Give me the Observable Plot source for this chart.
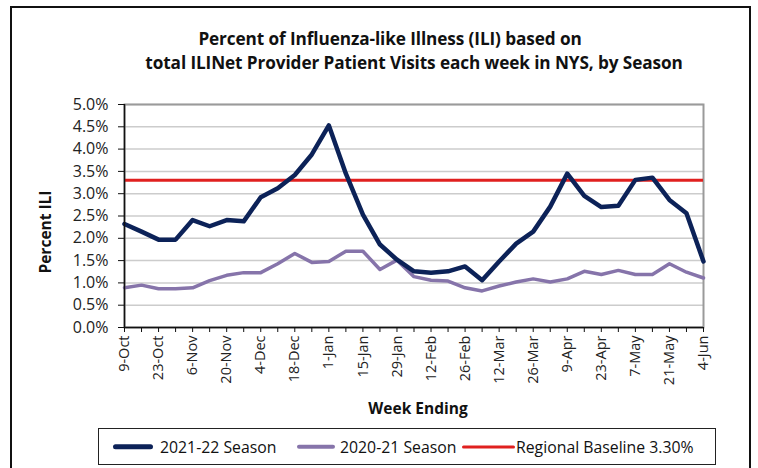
<!DOCTYPE html>
<html>
<head>
<meta charset="utf-8">
<script src="https://cdn.jsdelivr.net/npm/d3@7"></script>
<script src="https://cdn.jsdelivr.net/npm/@observablehq/plot@0.6"></script>
<style>
  html, body { margin: 0; padding: 0; background: #fff; }
  #wrap { position: relative; width: 758px; height: 468px; overflow: hidden; background: #fff; font-family: "Open Sans", sans-serif; }
  #frame { position: absolute; left: 10px; top: 6px; width: 741px; height: 480px; border: 2px solid #111; box-sizing: border-box; }
  .title { position: absolute; font-weight: bold; font-size: 17.2px; color: #111; white-space: nowrap; transform: translate(-50%, -50%); letter-spacing: -0.1px; }
  .axlabel { position: absolute; font-weight: bold; font-size: 15.5px; color: #111; white-space: nowrap; transform: translate(-50%, -50%); }
  #chart { position: absolute; left: 0; top: 0; }
  #legend { position: absolute; left: 98px; top: 428px; width: 618px; height: 37px; border: 1px solid #222; box-sizing: border-box; background: #fff; }
  .lg-sw { position: absolute; top: 50%; transform: translateY(-50%); border-radius: 3px; }
  .lg-tx { position: absolute; top: 50%; transform: translateY(-50%); font-size: 15.8px; color: #111; white-space: nowrap; }
</style>
</head>
<body>
<div id="wrap">
  <div id="frame"></div>
  <div id="chart"></div>
  <div class="title" id="t1" style="left:390px; top:38px;"></div>
  <div class="title" id="t2" style="left:414px; top:62px;"></div>
  <div class="axlabel" id="ylab" style="left:45px; top:232px; transform: translate(-50%, -50%) rotate(-90deg);"></div>
  <div class="axlabel" id="xlab" style="left:418px; top:408px;"></div>
  <div id="legend"></div>
</div>
<script>
// ---- Data ----
const titleLines = [
  "Percent of Influenza-like Illness (ILI) based on",
  "total ILINet Provider Patient Visits each week in NYS, by Season"
];
const yAxisTitle = "Percent ILI";
const xAxisTitle = "Week Ending";
const firstWeekEnding = "2021-10-09";
const xTickLabels = ["9-Oct","23-Oct","6-Nov","20-Nov","4-Dec","18-Dec","1-Jan","15-Jan","29-Jan","12-Feb","26-Feb","12-Mar","26-Mar","9-Apr","23-Apr","7-May","21-May","4-Jun"];
const yTicks = [0,0.5,1,1.5,2,2.5,3,3.5,4,4.5,5];
const seriesNames = ["2021-22 Season", "2020-21 Season", "Regional Baseline 3.30%"];
const season2122 = [2.32,2.15,1.97,1.97,2.41,2.27,2.41,2.38,2.92,3.12,3.42,3.88,4.53,3.45,2.53,1.86,1.52,1.26,1.23,1.26,1.37,1.06,1.48,1.88,2.15,2.71,3.45,2.95,2.70,2.73,3.31,3.36,2.86,2.56,1.48];
const season2021 = [0.89,0.95,0.87,0.87,0.89,1.05,1.17,1.23,1.23,1.43,1.66,1.46,1.48,1.71,1.71,1.30,1.51,1.14,1.06,1.04,0.89,0.82,0.93,1.02,1.09,1.02,1.09,1.26,1.19,1.28,1.19,1.19,1.43,1.24,1.11];
const baseline = 3.3;

// ---- Styles ----
const colors = ["#0c2258", "#8674aa", "#e0201f"];

// ---- Build ----
const start = new Date(firstWeekEnding + "T00:00:00Z");
const weeks = season2122.map((_, i) => d3.utcDay.offset(start, 7 * i));
const fmt = d3.utcFormat("%-d-%b");
const labelSet = new Set(xTickLabels);
const rows2122 = weeks.map((d, i) => ({date: d, value: season2122[i]}));
const rows2021 = weeks.map((d, i) => ({date: d, value: season2021[i]}));

document.getElementById("t1").textContent = titleLines[0];
document.getElementById("t2").textContent = titleLines[1];
document.getElementById("ylab").textContent = yAxisTitle;
document.getElementById("xlab").textContent = xAxisTitle;

const chart = Plot.plot({
  width: 758,
  height: 468,
  marginLeft: 124,
  marginRight: 55,
  marginTop: 104,
  marginBottom: 141,
  style: {fontFamily: "Open Sans, sans-serif", fontSize: "14px", color: "#222", background: "transparent"},
  x: {type: "utc", domain: [weeks[0], weeks[weeks.length - 1]], label: null},
  y: {domain: [0, 5], label: null},
  marks: [
    Plot.gridY(yTicks, {stroke: "#cccccc", strokeOpacity: 1, strokeWidth: 1.5}),
    Plot.frame({stroke: "#9a9a9a", strokeWidth: 2}),
    Plot.ruleY([baseline], {stroke: colors[2], strokeWidth: 3}),
    Plot.line(rows2021, {x: "date", y: "value", stroke: colors[1], strokeWidth: 3.5}),
    Plot.line(rows2122, {x: "date", y: "value", stroke: colors[0], strokeWidth: 4.5}),
    Plot.ruleX([weeks[0]], {stroke: "#111", strokeWidth: 1.5}),
    Plot.ruleY([0], {stroke: "#111", strokeWidth: 1.5}),
    Plot.axisY(yTicks, {
      tickFormat: d => d.toFixed(1) + "%",
      tickSize: 6, tickPadding: 10, fontSize: 16, stroke: "#111", label: null
    }),
    Plot.axisX(weeks, {
      tickFormat: d => labelSet.has(fmt(d)) ? fmt(d) : "",
      tickRotate: -90, tickSize: 5, tickPadding: 3, fontSize: 14.5, stroke: "#111", label: null
    })
  ]
});
document.getElementById("chart").appendChild(chart);

// ---- Legend ----
const legend = document.getElementById("legend");
const legendItems = [
  {sw: [14, 40, 5.5], tx: 61},
  {sw: [198, 38, 4.5], tx: 241},
  {sw: [363, 53, 3], tx: 417}
];
seriesNames.forEach((name, i) => {
  const sw = document.createElement("div");
  sw.className = "lg-sw";
  sw.style.left = legendItems[i].sw[0] + "px";
  sw.style.width = legendItems[i].sw[1] + "px";
  sw.style.height = legendItems[i].sw[2] + "px";
  sw.style.background = colors[i];
  legend.appendChild(sw);
  const tx = document.createElement("div");
  tx.className = "lg-tx";
  tx.style.left = legendItems[i].tx + "px";
  tx.textContent = name;
  legend.appendChild(tx);
});
</script>
</body>
</html>
